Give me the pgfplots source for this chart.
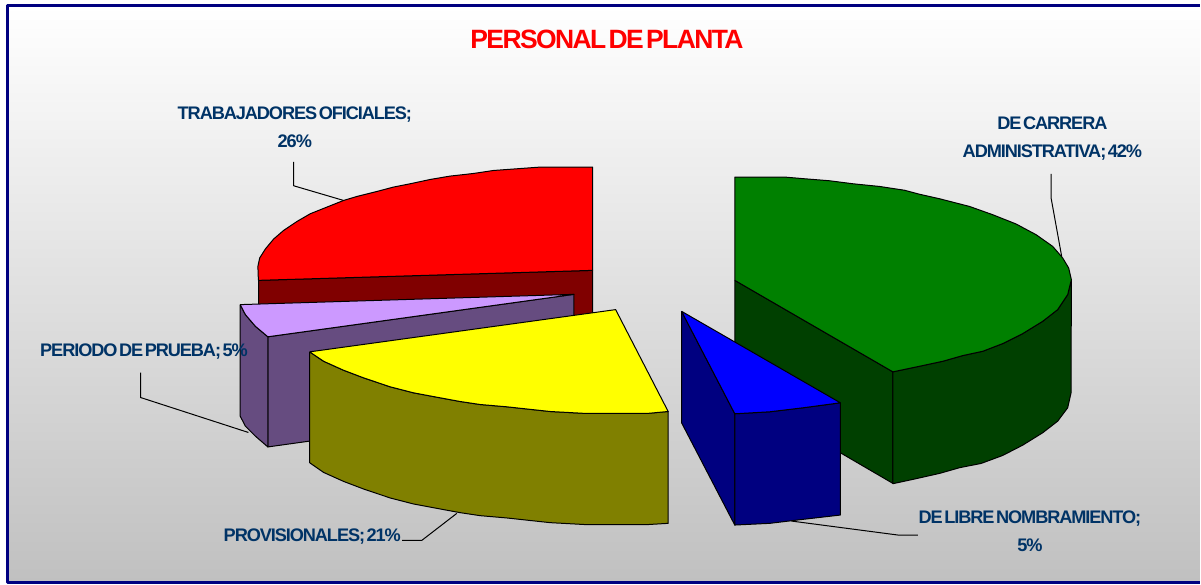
\documentclass[border=0pt]{standalone}
\usepackage{fontspec}
\setmainfont[LetterSpace=-6,WordSpace=0.4]{Liberation Sans}
\usepackage{pgfplots}
\pgfplotsset{compat=1.18}
\definecolor{framenavy}{HTML}{000080}
\definecolor{labelblue}{HTML}{003366}
\definecolor{bgbottom}{HTML}{C0C0C0}
\definecolor{pure red}{HTML}{FF0000}
\definecolor{darkred}{HTML}{800000}
\definecolor{lav}{HTML}{CC99FF}
\definecolor{lavside}{HTML}{664C80}
\definecolor{pure yellow}{HTML}{FFFF00}
\definecolor{olive2}{HTML}{808000}
\definecolor{green2}{HTML}{008000}
\definecolor{greenside}{HTML}{004000}
\definecolor{pure blue}{HTML}{0000FF}
\tikzset{lbl/.style={font=\fontsize{18.2}{28}\selectfont\bfseries, text=labelblue, align=center, inner sep=0pt}}
\begin{document}
\begin{tikzpicture}
\begin{axis}[
  scale only axis,
  width=1201pt, height=585pt,
  xmin=-0.7, xmax=1200.3, ymin=0, ymax=585,
  y dir=reverse,
  ticks=none,
  axis line style={draw=none},
  clip=false,
  every axis plot/.append style={line join=round, line width=1pt},
]
% background panel
\path[top color=white, bottom color=bgbottom]
  (axis cs:6.5,6) rectangle (axis cs:1200.3,583);
\addplot[framenavy, line width=3pt] coordinates {(1200.3,6) (6.5,6) (6.5,583) (1200.3,583)};

% leader lines
\addplot[black] coordinates {(293.3,162) (293.3,186) (343.3,200.7)};
\addplot[black] coordinates {(1051.7,174) (1051.7,198.3) (1062.3,256.7)};
\addplot[black] coordinates {(791.7,521.7) (898.3,535.7) (918.3,535.7)};
\addplot[black] coordinates {(402,541) (421.7,541) (456.7,514)};
\addplot[black] coordinates {(140,373) (140,398) (248,433)};

% trabajadores oficiales 26%
\addplot[fill=darkred, draw=black] coordinates {(258.3,280.7) (592.7,270.7) (592.7,325) (258.3,325) (258.3,280.7)};
\addplot[fill=pure red, draw=black] coordinates {
  (592.7,270.7) (592.7,167.3) (540,167.3) (516.7,169) (493.3,170.7) (473.3,173.7) (450,176.3)
  (430,179.7) (410,184) (393.3,187.3) (376.7,191.7) (356.7,196.7) (343.3,200.7) (330,206)
  (310,214) (296.7,221.7) (283.3,230.7) (273.3,239.3) (265,249.3) (259.3,258.3)
  (257.5,266.7) (258,280.7) (592.7,270.7)};

% periodo de prueba 5%
\addplot[fill=lavside, draw=black] coordinates {(267.5,337.2) (574,294.7) (574,404.7) (267.5,447.5) (267.5,337.2)};
\addplot[fill=lavside, draw=black] coordinates {
  (239.8,305) (245,315) (255,326.7) (267.5,337.2) (267.5,447.5) (255,436.7) (245,426.7)
  (239.8,416.7) (239.8,305)};
\addplot[fill=lav, draw=black] coordinates {(239.8,305) (574,294.7) (267.5,337.2) (255,326.7) (245,315) (239.8,305)};

% provisionales 21%
\addplot[fill=olive2, draw=black] coordinates {
  (309.3,352.3) (323.3,361.7) (343.3,370.7) (363.3,378.3) (390,387.3) (413.3,393.3)
  (440,398.3) (460,402) (480,405) (506.7,407.3) (550,412) (586.7,414) (646.7,414) (668.3,412)
  (668.3,524) (646.7,525.3) (586.7,525.3) (550,523.3) (506.7,518.6) (480,516.3) (460,513.3)
  (440,509.6) (413.3,504.6) (390,498.6) (363.3,489.6) (343.3,482) (323.3,473)
  (309.3,463.3) (309.3,352.3)};
\addplot[fill=pure yellow, draw=black] coordinates {
  (309.3,352.3) (615.7,310) (668.3,412) (646.7,414) (586.7,414) (550,412) (506.7,407.3)
  (480,405) (460,402) (440,398.3) (413.3,393.3) (390,387.3) (363.3,378.3) (343.3,370.7)
  (323.3,361.7) (309.3,352.3)};

% de carrera administrativa 42%
\addplot[fill=greenside, draw=black] coordinates {(735,280.7) (893.3,372.3) (893.3,484) (735,391.7) (735,280.7)};
\addplot[fill=greenside, draw=black] coordinates {
  (1072,280) (1068.3,295) (1058.3,310) (1043.3,321.7) (1023.3,334) (1003.3,344) (983.3,351.7)
  (963.3,356) (943.3,361.7) (920,366.7) (893.3,372.3)
  (893.3,484.3) (913.3,480) (940,474) (960,468.3) (981.7,464) (1003.3,456) (1023.3,445.7)
  (1043.3,433.3) (1058.3,421.7) (1068.3,408.3) (1071.7,393.3) (1072,280)};
\addplot[fill=green2, draw=black] coordinates {
  (735,280.7) (735,177.3) (785,177.3) (805,179) (830,181) (853.3,184) (880,186.7) (905,190.5)
  (920,194.5) (940,199) (970,206.7) (993.3,215) (1016.7,224.3) (1036.7,235) (1053.3,246.7)
  (1063.3,258.3) (1069.3,268.3) (1072,280) (1068.3,295) (1058.3,310) (1043.3,321.7) (1023.3,334)
  (1003.3,344) (983.3,351.7) (963.3,356) (943.3,361.7) (920,366.7) (893.3,372.3) (735,280.7)};

% de libre nombramiento 5%
\addplot[fill=framenavy, draw=black] coordinates {(681.7,311.7) (735,414.3) (735,525.7) (681.7,423.3) (681.7,311.7)};
\addplot[fill=framenavy, draw=black] coordinates {
  (735,414.3) (770,412.3) (803.3,408.3) (840.7,403.3) (840.7,515.7) (803.3,520) (770,524) (735,525.7) (735,414.3)};
\addplot[fill=pure blue, draw=black] coordinates {
  (681.7,311.7) (840.7,403.3) (803.3,408.3) (770,412.3) (735,414.3) (681.7,311.7)};

% texts
\node[font=\fontsize{26.5}{30}\selectfont\bfseries, text=pure red, inner sep=0pt] at (axis cs:607,39.5) {PERSONAL DE PLANTA};
\node[lbl] at (axis cs:294.5,127.5) {TRABAJADORES OFICIALES;\\26\%};
\node[lbl] at (axis cs:1053,138.5) {DE CARRERA\\ADMINISTRATIVA; 42\%};
\node[lbl] at (axis cs:143.5,352.5) {PERIODO DE PRUEBA; 5\%};
\node[lbl] at (axis cs:312,537.5) {PROVISIONALES; 21\%};
\node[lbl] at (axis cs:1030.5,531.5) {DE LIBRE NOMBRAMIENTO;\\5\%};
\end{axis}
\end{tikzpicture}
\end{document}
